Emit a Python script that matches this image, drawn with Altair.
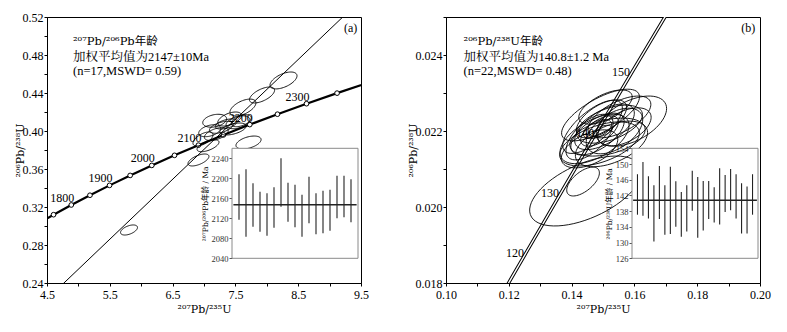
import altair as alt
import pandas as pd

FONT = "Liberation Serif, Noto Serif CJK SC, Noto Sans CJK SC"
SUPFONT = "DejaVu Serif, Noto Sans CJK SC"

# ---------------- Panel (a) ----------------
conc_a_age = [1700, 1750, 1800, 1850, 1900, 1950, 2000, 2050, 2100, 2150, 2200, 2250, 2300, 2350, 2400]
conc_a_x = [4.3348, 4.6042, 4.8868, 5.1840, 5.4962, 5.8241, 6.1685, 6.5304, 6.9105, 7.3098, 7.7292, 8.1697, 8.6326, 9.1188, 9.6295]
conc_a_y = [0.30176, 0.31189, 0.32214, 0.33238, 0.34278, 0.35323, 0.36377, 0.37439, 0.38509, 0.39587, 0.40674, 0.41769, 0.42873, 0.43986, 0.45107]
conc_a_labels = [1800, 1900, 2000, 2100, 2200, 2300]

disc_a_x = [4.5, 9.5]
disc_a_y = [0.2230, 0.5383]

ell_a_cx = [8.266, 7.924, 7.620, 7.709, 6.912, 5.806, 7.170, 7.409, 7.594, 7.091, 7.276, 6.984, 7.196, 7.462, 7.064, 7.541, 7.355]
ell_a_cy = [0.4532, 0.4379, 0.4247, 0.3879, 0.3695, 0.2958, 0.4108, 0.4126, 0.4108, 0.4003, 0.4039, 0.3916, 0.3968, 0.4021, 0.3845, 0.4092, 0.4074]
ell_a_sx = [0.215, 0.200, 0.207, 0.200, 0.167, 0.135, 0.190, 0.190, 0.160, 0.175, 0.190, 0.160, 0.190, 0.210, 0.175, 0.190, 0.175]
ell_a_sy = [0.0089, 0.0084, 0.0089, 0.0068, 0.0063, 0.0053, 0.0068, 0.0074, 0.0063, 0.0063, 0.0063, 0.0074, 0.0068, 0.0063, 0.0063, 0.0068, 0.0053]
ell_a_rho = [0.55, 0.60, 0.55, 0.45, 0.60, 0.50, 0.30, 0.50, 0.50, 0.40, 0.50, 0.60, 0.50, 0.50, 0.60, 0.40, 0.50]

inset_a_hi = [2208, 2218, 2190, 2173, 2170, 2182, 2240, 2191, 2187, 2167, 2203, 2170, 2175, 2177, 2205, 2205, 2198]
inset_a_lo = [2117, 2083, 2103, 2093, 2085, 2101, 2143, 2113, 2102, 2083, 2110, 2088, 2090, 2095, 2120, 2122, 2112]
inset_a_mean = 2147

text_a = ["²⁰⁷Pb/²⁰⁶Pb年龄", "加权平均值为2147±10Ma", "(n=17,MSWD= 0.59)"]

# ---------------- Panel (b) ----------------
conc_b_age = [110, 115, 120, 130, 140, 150, 160]
conc_b_x = [0.11442, 0.11992, 0.12545, 0.13659, 0.14784, 0.15920, 0.17067]
conc_b_y = [0.017210, 0.018000, 0.018789, 0.020371, 0.021955, 0.023542, 0.025131]
conc_b_labels = [120, 130, 140, 150]

ell_b_cx = [0.14444, 0.14365, 0.14921, 0.15905, 0.14889, 0.15048, 0.14825, 0.15206, 0.14730, 0.15365, 0.14952,
            0.14571, 0.15143, 0.14889, 0.15524, 0.14667, 0.15270, 0.14984, 0.14825, 0.14571, 0.15683, 0.15079]
ell_b_cy = [0.020421, 0.02067, 0.02242, 0.02226, 0.02166, 0.02211, 0.02192, 0.02218, 0.02179, 0.02200, 0.02232,
            0.02153, 0.02184, 0.02200, 0.02237, 0.02211, 0.02166, 0.02200, 0.02205, 0.02184, 0.02211, 0.02263]
ell_b_sx = [0.0178, 0.0052, 0.0124, 0.0112, 0.0127, 0.0095, 0.0085, 0.0105, 0.0110, 0.0090, 0.0080,
            0.0090, 0.0120, 0.0060, 0.0100, 0.0095, 0.0115, 0.0030, 0.0045, 0.0075, 0.0085, 0.0085]
ell_b_sy = [0.00092, 0.00038, 0.00068, 0.00066, 0.00058, 0.00060, 0.00055, 0.00050, 0.00065, 0.00060, 0.00050,
            0.00050, 0.00050, 0.00040, 0.00055, 0.00070, 0.00060, 0.00015, 0.00025, 0.00060, 0.00050, 0.00045]
ell_b_rho = [0.55, 0.60, 0.70, 0.50, 0.50, 0.60, 0.60, 0.50, 0.55, 0.50, 0.60,
             0.50, 0.40, 0.60, 0.60, 0.70, 0.50, 0.50, 0.50, 0.60, 0.50, 0.60]

inset_b_hi = [147.4, 150.5, 146.9, 144.6, 149.5, 144.6, 149.3, 145.6, 142.9, 144.6, 148.3,
              146.7, 145.7, 145.7, 144.1, 148.9, 147.2, 148.7, 147.4, 145.1, 144.3, 147.4]
inset_b_lo = [137.1, 136.8, 136.1, 130.3, 136.0, 132.0, 132.2, 134.0, 131.5, 132.8, 138.1,
              131.2, 133.1, 136.0, 135.1, 134.6, 137.8, 138.2, 136.1, 132.3, 132.3, 137.1]
inset_b_mean = 140.8

text_b = ["²⁰⁶Pb/²³⁸U年龄", "加权平均值为140.8±1.2 Ma", "(n=22,MSWD= 0.48)"]

W, H = 314, 266


def ellipse_layer(cx, cy, sx, sy, rho, xe, ye):
    df = pd.DataFrame({"id": list(range(len(cx))), "cx": cx, "cy": cy, "sx": sx, "sy": sy, "rho": rho})
    return (
        alt.Chart(df)
        .transform_calculate(th="sequence(0, 6.3, 0.1)")
        .transform_flatten(["th"])
        .transform_calculate(
            x="datum.cx + datum.sx*cos(datum.th)",
            y="datum.cy + datum.sy*(datum.rho*cos(datum.th) + sqrt(1-datum.rho*datum.rho)*sin(datum.th))",
        )
        .mark_line(interpolate="linear-closed", color="black", strokeWidth=0.9, clip=True)
        .encode(x=xe, y=ye, detail="id:N", order="th:Q")
    )


def main_axes(xdom, ydom, xvals, yvals, xexpr, yexpr, xtitle, ytitle):
    xe = alt.X("x:Q", scale=alt.Scale(domain=xdom, nice=False, zero=False),
               axis=alt.Axis(values=xvals, labelExpr=xexpr, title=xtitle, labelFlush=False,
                             tickSize=3, labelPadding=3, titlePadding=3, labelFontSize=12,
                             titleFontSize=11, titleFont=SUPFONT))
    ye = alt.Y("y:Q", scale=alt.Scale(domain=ydom, nice=False, zero=False),
               axis=alt.Axis(values=yvals, labelExpr=yexpr, title=ytitle, labelFlush=False,
                             tickSize=3, labelPadding=1, titlePadding=-3, labelFontSize=12,
                             titleFontSize=11, titleFont=SUPFONT))
    return xe, ye


def inset_axes(n, ydom, yvals, ytitle, xrange):
    xe = alt.X("ix:Q", scale=alt.Scale(domain=[0, n], range=xrange, nice=False, zero=False), axis=None)
    ye = alt.Y("lo:Q", scale=alt.Scale(domain=ydom, range=[241.3, 131.3], nice=False, zero=False),
               axis=alt.Axis(orient="left", offset=-xrange[0], values=yvals, format="d", title=ytitle,
                             domain=False, grid=False, tickSize=3, labelPadding=1, titlePadding=2,
                             labelFontSize=8.5, titleFontSize=7.5, titleFont=SUPFONT,
                             labelColor="#333", tickColor="#555"))
    return xe, ye


def panel(conc_x, conc_y, conc_age, labels, markers, xdom, disc, ell, inset, iydom, texts, tag,
          xe, ye, ixe, iye, double):
    cdf = pd.DataFrame({"x": conc_x, "y": conc_y, "age": conc_age})
    layers = []
    if double:
        layers.append(alt.Chart(cdf).mark_line(color="black", strokeWidth=3.4, clip=True).encode(x=xe, y=ye))
        layers.append(alt.Chart(cdf).mark_line(color="white", strokeWidth=1.4, clip=True).encode(x=xe, y=ye))
    else:
        layers.append(alt.Chart(cdf).mark_line(color="black", strokeWidth=2.2, clip=True).encode(x=xe, y=ye))
    if markers:
        mdf = cdf[(cdf["x"] >= xdom[0]) & (cdf["x"] <= xdom[1])]
        layers.append(alt.Chart(mdf).mark_point(shape="circle", filled=True, fill="white", stroke="black",
                                                strokeWidth=1, size=22, opacity=1).encode(x=xe, y=ye))
    ldf = cdf[cdf["age"].isin(labels)].assign(t=lambda d: d["age"].astype(str))
    if markers:
        layers.append(alt.Chart(ldf).mark_text(align="right", baseline="middle", dx=3, dy=-7, fontSize=12)
                      .encode(x=xe, y=ye, text="t:N"))
    else:
        layers.append(alt.Chart(ldf).mark_text(align="right", baseline="middle", dx=-2, dy=0, fontSize=12)
                      .encode(x=xe, y=ye, text="t:N"))
    if disc is not None:
        ddf = pd.DataFrame({"x": disc[0], "y": disc[1]})
        layers.append(alt.Chart(ddf).mark_line(color="black", strokeWidth=1, clip=True).encode(x=xe, y=ye))
    layers.append(ellipse_layer(*ell, xe, ye))
    tdf1 = pd.DataFrame({"x": texts[0][:1], "y": texts[1][:1], "t": texts[2][:1]})
    tdf2 = pd.DataFrame({"x": texts[0][1:], "y": texts[1][1:], "t": texts[2][1:]})
    layers.append(alt.Chart(tdf1).mark_text(align="left", baseline="middle", fontSize=11.5, font=SUPFONT)
                  .encode(x=xe, y=ye, text="t:N"))
    layers.append(alt.Chart(tdf2).mark_text(align="left", baseline="middle", fontSize=12.5)
                  .encode(x=xe, y=ye, text="t:N"))
    gdf = pd.DataFrame({"x": [tag[0]], "y": [tag[1]], "t": [tag[2]]})
    layers.append(alt.Chart(gdf).mark_text(align="right", baseline="middle", fontSize=12).encode(x=xe, y=ye, text="t:N"))
    main = alt.layer(*layers)

    hi, lo, mean, n = inset
    box = pd.DataFrame({"ix": [0], "ix2": [n], "lo": [iydom[0]], "hi": [iydom[1]]})
    bars = pd.DataFrame({"ix": list(range(1, len(hi) + 1)), "lo": lo, "hi": hi})
    mdf2 = pd.DataFrame({"ix": [0.2], "ix2": [n - 0.2], "lo": [mean]})
    ins = alt.layer(
        alt.Chart(box).mark_rect(fill="white", stroke="#8a8a8a", strokeWidth=1).encode(x=ixe, x2="ix2:Q", y=iye, y2="hi:Q"),
        alt.Chart(bars).mark_rule(color="#222", strokeWidth=1.1).encode(x=ixe, y=iye, y2="hi:Q"),
        alt.Chart(mdf2).mark_rule(color="#222", strokeWidth=1.5).encode(x=ixe, x2="ix2:Q", y=iye),
    )
    return alt.layer(main, ins).resolve_scale(x="independent", y="independent").properties(width=W, height=H)


# panel a
xa, ya = main_axes([4.5, 9.5], [0.24, 0.52],
                   [4.5, 5.0, 5.5, 6.0, 6.5, 7.0, 7.5, 8.0, 8.5, 9.0, 9.5],
                   [0.24, 0.26, 0.28, 0.30, 0.32, 0.34, 0.36, 0.38, 0.40, 0.42, 0.44, 0.46, 0.48, 0.50, 0.52],
                   "(datum.value - 4.5) % 1 == 0 ? format(datum.value, '.1f') : ''",
                   "round(datum.value*100) % 4 == 0 ? format(datum.value, '.2f') : ''",
                   "²⁰⁷Pb/²³⁵U", "²⁰⁶Pb/²³⁸U")
ixa, iya = inset_axes(18, [2040, 2260], [2040, 2080, 2120, 2160, 2200, 2240], "²⁰⁷Pb/²⁰⁶Pb年龄 / Ma", [185, 311])
left = panel(conc_a_x, conc_a_y, conc_a_age, conc_a_labels, True, [4.5, 9.5], (disc_a_x, disc_a_y),
             (ell_a_cx, ell_a_cy, ell_a_sx, ell_a_sy, ell_a_rho),
             (inset_a_hi, inset_a_lo, inset_a_mean, 18), [2040, 2260],
             ([4.914, 4.914, 4.914], [0.4937, 0.4779, 0.4632], text_a),
             (9.44, 0.5084, "(a)"), xa, ya, ixa, iya, False)

# panel b
xb, yb = main_axes([0.10, 0.20], [0.018, 0.025],
                   [0.10, 0.11, 0.12, 0.13, 0.14, 0.15, 0.16, 0.17, 0.18, 0.19, 0.20],
                   [0.018, 0.019, 0.020, 0.021, 0.022, 0.023, 0.024, 0.025],
                   "round(datum.value*100) % 2 == 0 ? format(datum.value, '.2f') : ''",
                   "round(datum.value*1000) % 2 == 0 && datum.value < 0.0245 ? format(datum.value, '.3f') : ''",
                   "²⁰⁷Pb/²³⁵U", "²⁰⁶Pb/²³⁸U")
ixb, iyb = inset_axes(23, [126, 154], [126, 130, 134, 138, 142, 146, 150, 154], "²⁰⁶Pb/²³⁸U年龄 / Ma", [186, 312])
right = panel(conc_b_x, conc_b_y, conc_b_age, conc_b_labels, False, [0.10, 0.20], None,
              (ell_b_cx, ell_b_cy, ell_b_sx, ell_b_sy, ell_b_rho),
              (inset_b_hi, inset_b_lo, inset_b_mean, 23), [126, 154],
              ([0.1056, 0.1056, 0.1056], [0.02434, 0.02395, 0.02358], text_b),
              (0.1985, 0.02471, "(b)"), xb, yb, ixb, iyb, True)

chart = (
    alt.hconcat(left, right, spacing=37)
    .properties(padding={"left": 13, "top": 10, "right": 5, "bottom": 5}, background="white")
    .configure_view(stroke="black", strokeWidth=1)
    .configure_axis(labelFont=FONT, titleFont=FONT, labelColor="black", titleColor="black",
                    domainColor="black", tickColor="black", grid=False, titleFontWeight="normal")
    .configure_text(font=FONT, color="black")
)

chart.save("out.html", embed_options={"renderer": "svg", "actions": False})
